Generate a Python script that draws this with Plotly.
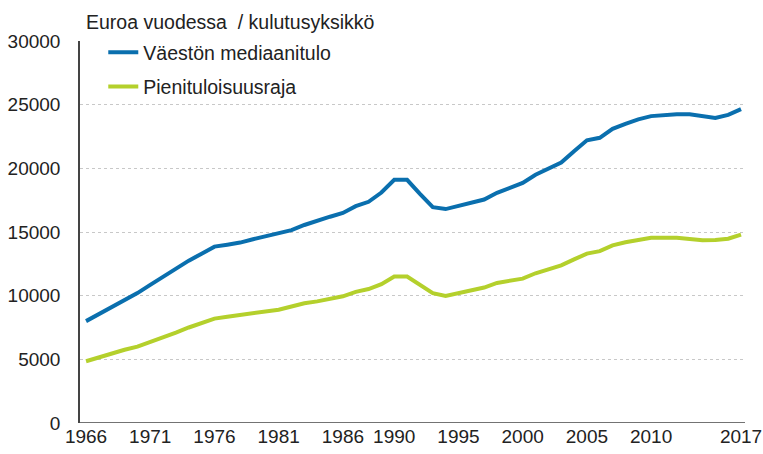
import plotly.graph_objects as go

years = list(range(1966, 2018))
median_income = [
    8000, 8550, 9100, 9650, 10200, 10850, 11500, 12150, 12750, 13300,
    13850, 14000, 14170, 14430, 14690, 14900, 15150, 15550, 15900, 16200,
    16500, 17030, 17370, 18100, 19100, 19100, 18000, 16950, 16800, 17050,
    17300, 17550, 18080, 18450, 18850, 19500, 20000, 20450, 21350, 22200,
    22400, 23100, 23500, 23850, 24100, 24200, 24250, 24250, 24100, 23950,
    24200, 24650,
]
low_income_threshold = [
    4850, 5150, 5500, 5750, 6000, 6350, 6750, 7100, 7500, 7850,
    8200, 8350, 8480, 8620, 8760, 8900, 9150, 9400, 9550, 9750,
    9950, 10300, 10520, 10900, 11500, 11500, 10850, 10200, 9980, 10200,
    10450, 10640, 11000, 11200, 11340, 11760, 12100, 12380, 12850, 13300,
    13500, 13950, 14200, 14400, 14550, 14550, 14550, 14450, 14350, 14370,
    14470, 14800,
]
x_ticks = [1966, 1971, 1976, 1981, 1986, 1990, 1995, 2000, 2005, 2010, 2017]
y_ticks = [0, 5000, 10000, 15000, 20000, 25000, 30000]
y_tick_labels = ["0", "5000", "10000", "15000", "20000", "25000", "30000"]
series_names = ["Väestön mediaanitulo", "Pienituloisuusraja"]
axis_title = "Euroa vuodessa  / kulutusyksikkö"

FONT = "Liberation Sans, Arial, sans-serif"

fig = go.Figure()
fig.add_trace(go.Scatter(x=years, y=median_income, mode="lines", name=series_names[0],
                         legendgroup="a",
                         line=dict(color="#0a6fae", width=4)))
fig.add_trace(go.Scatter(x=years, y=low_income_threshold, mode="lines", name=series_names[1],
                         legendgroup="b",
                         line=dict(color="#b4d02c", width=4)))

fig.update_layout(
    width=763, height=454,
    margin=dict(l=80, r=18, t=41, b=31, autoexpand=False),
    paper_bgcolor="white", plot_bgcolor="white",
    font=dict(family=FONT, size=19, color="#222"),
    showlegend=True,
    legend=dict(x=0.035, y=1.021, xanchor="left", yanchor="top",
                bgcolor="rgba(0,0,0,0)", font=dict(size=19.5, color="#222"),
                tracegroupgap=6, itemwidth=30),
    annotations=[dict(text=axis_title, xref="paper", yref="paper", x=0.006, y=1,
                      xanchor="left", yanchor="bottom", yshift=6, showarrow=False,
                      font=dict(size=19.5, color="#222"))],
)
fig.update_xaxes(range=[1965.53, 2017.31], tickmode="array", tickvals=x_ticks,
                 ticks="", showgrid=False, zeroline=False, automargin=False,
                 showline=False, tickfont=dict(size=19))
fig.update_yaxes(range=[0, 30000], tickmode="array", tickvals=y_ticks,
                 ticktext=y_tick_labels, automargin=False,
                 ticks="", showgrid=True, gridcolor="#c8c8c8", griddash="dot",
                 gridwidth=1, zeroline=False, showline=True, linecolor="#444",
                 linewidth=1.5, tickfont=dict(size=19), ticklabelstandoff=14)
# x axis baseline
fig.add_hline(y=0, line=dict(color="#444", width=1.5))

fig.write_html("out.html", post_script="document.body.style.margin='0';",
               config={"displayModeBar": False})
